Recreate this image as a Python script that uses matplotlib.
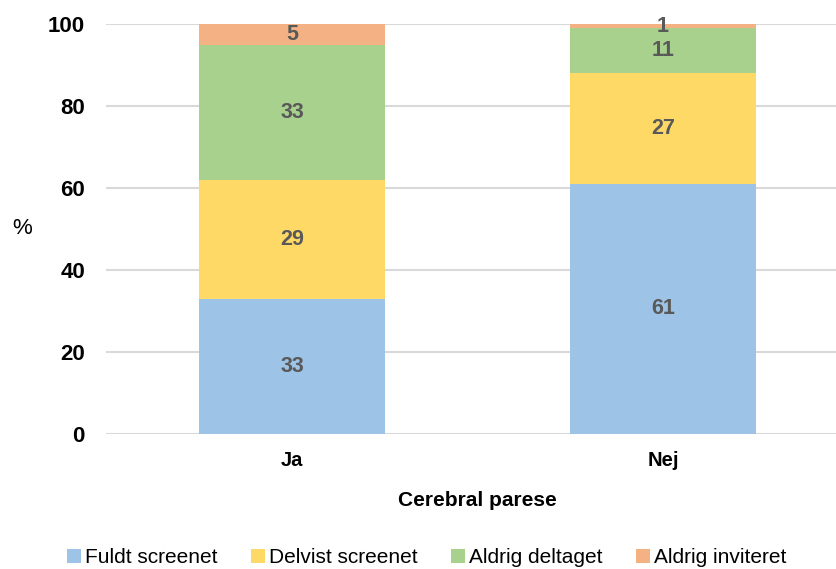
import matplotlib
matplotlib.use("Agg")
import matplotlib.pyplot as plt
import numpy as np

plt.rcParams['font.family'] = ['Liberation Sans', 'DejaVu Sans']

categories = ["Ja", "Nej"]
series_names = ["Fuldt screenet", "Delvist screenet", "Aldrig deltaget", "Aldrig inviteret"]
fuldt = [33, 61]
delvist = [29, 27]
aldrig_deltaget = [33, 11]
aldrig_inviteret = [5, 1]
yticks = [0, 20, 40, 60, 80, 100]

colors = ["#9DC3E6", "#FFD966", "#A9D18E", "#F4B183"]
series = [fuldt, delvist, aldrig_deltaget, aldrig_inviteret]

W, H = 837, 569
fig = plt.figure(figsize=(W / 100, H / 100), dpi=100)
left, right = 106.5, 848.5
top, bottom_px = 24, 434
ax = fig.add_axes([left / W, 1 - bottom_px / H, (right - left) / W, (bottom_px - top) / H])

x = np.arange(len(categories))
bottom = np.zeros(len(categories))
handles = []
for name, vals, col in zip(series_names, series, colors):
    vals = np.array(vals, dtype=float)
    bars = ax.bar(x, vals, width=0.504, bottom=bottom, color=col, label=name, zorder=2)
    handles.append(bars)
    for xi, b, v in zip(x, bottom, vals):
        ax.text(xi, b + v / 2, f"{v:.0f}", ha="center", va="center",
                fontsize=15.5, fontweight="bold", color="#595959", zorder=3)
    bottom += vals

ax.set_xlim(-0.5, 1.5)
ax.set_ylim(0, 100)
ax.set_yticks(yticks)
ax.set_yticklabels([str(t) for t in yticks], fontsize=16, fontweight="bold")
ax.set_xticks(x)
ax.set_xticklabels(categories, fontsize=14.5, fontweight="bold")
ax.tick_params(axis="both", length=0)
ax.tick_params(axis="y", pad=15.5)
ax.tick_params(axis="x", pad=12)
ax.grid(axis="y", color="#D9D9D9", linewidth=1.5, zorder=0)
for s in ax.spines.values():
    s.set_visible(False)

ax.set_xlabel("Cerebral parese", fontsize=15, fontweight="bold", labelpad=15)
fig.text(22 / W, 1 - 229 / H, "%", fontsize=16, ha="center", va="center")

fig.legend(handles=handles, labels=series_names, loc="lower center",
           bbox_to_anchor=(0.51, -0.03), ncol=4, frameon=False, fontsize=15,
           handlelength=0.65, handleheight=0.65, handletextpad=0.2, columnspacing=1.62)

fig.savefig("out.png", dpi=100)
